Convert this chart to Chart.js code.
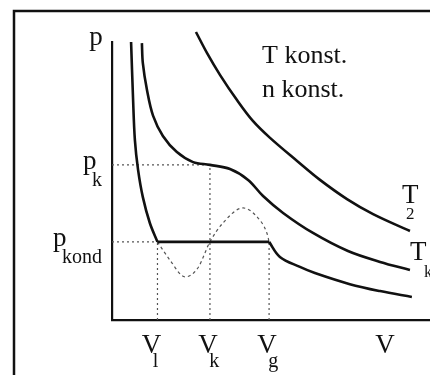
<!DOCTYPE html>
<html>
<head>
<meta charset="utf-8">
<script src="https://cdn.jsdelivr.net/npm/chart.js@4"></script>
<style>
  html, body { margin: 0; padding: 0; background: #fff; }
  #wrap { width: 430px; height: 375px; }
</style>
</head>
<body>
<div id="wrap"><canvas id="pv"></canvas></div>
<script>
// marked volumes and pressures on the axes
const vTicks = [14.3, 30.8, 49.4, 86.5];
const vSubs = ["l", "k", "g", ""];
const pLevels = [55.8, 28.1];
const pSubs = ["k", "kond"];

// isotherm T2 (above critical)
const t2V = [26.4, 29.9, 34.0, 39.3, 44.3, 49.7, 58.2, 65.4, 73.9, 82.1, 93.7];
const t2P = [103.6, 96.0, 88.1, 79.1, 71.6, 65.5, 57.2, 50.4, 43.5, 38.1, 32.0];

// critical isotherm Tk
const tkV = [9.4, 9.7, 11.0, 12.9, 16.0, 20.4, 25.5, 30.8, 37.1, 42.8, 47.5, 53.8, 63.2, 74.2, 84.3, 93.7];
const tkP = [99.6, 92.4, 82.7, 73.5, 66.2, 60.4, 56.8, 55.8, 54.3, 50.4, 44.6, 38.5, 31.3, 24.8, 20.9, 18.0];

// isotherm below Tk: liquid branch, condensation line, gas branch
const liqV = [6.0, 6.6, 7.2, 8.2, 9.7, 11.9, 14.3];
const liqP = [100, 80.2, 64.7, 54.0, 44.2, 34.9, 28.1];
const gasV = [49.4, 52.8, 59.1, 63.8, 74.8, 84.3, 94.3];
const gasP = [28.1, 22.7, 19.1, 16.9, 12.9, 10.4, 8.3];

// van der Waals loop
const loopV = [14.3, 18.2, 23.0, 27.0, 30.8, 34.9, 41.2, 45.6, 48.7, 49.4];
const loopP = [28.1, 21.6, 15.5, 18.7, 28.1, 34.9, 40.3, 37.1, 31.3, 28.1];

function pts(xs, ys) {
  return xs.map((v, i) => ({ x: v, y: ys[i] }));
}

const serif = '"Liberation Serif", "DejaVu Serif", serif';

const solid = (data) => ({
  data,
  borderColor: "#111",
  borderWidth: 2.6,
  pointRadius: 0,
  tension: 0.35,
  clip: false,
});

const dotted = (data) => ({
  data,
  borderColor: "#555",
  borderWidth: 1.2,
  borderDash: [2, 3],
  pointRadius: 0,
  clip: false,
});

const vL = vTicks[0], vK = vTicks[1], vG = vTicks[2];
const pK = pLevels[0], pKond = pLevels[1];

const datasets = [
  solid(pts(t2V, t2P)),
  solid(pts(tkV, tkP)),
  solid(pts(liqV, liqP)),
  { ...solid([{ x: vL, y: pKond }, { x: vG, y: pKond }]), tension: 0 },
  solid(pts(gasV, gasP)),
  { ...dotted(pts(loopV, loopP)), borderDash: [3, 3], cubicInterpolationMode: "monotone" },
  dotted([{ x: 0, y: pK }, { x: vK, y: pK }]),
  dotted([{ x: 0, y: pKond }, { x: vL, y: pKond }]),
  dotted([{ x: vL, y: 0 }, { x: vL, y: pKond }]),
  dotted([{ x: vK, y: 0 }, { x: vK, y: pK }]),
  dotted([{ x: vG, y: 0 }, { x: vG, y: pKond }]),
];

// frame round the figure
const framePlugin = {
  id: "frame",
  afterDraw(chart) {
    const ctx = chart.ctx;
    ctx.save();
    ctx.strokeStyle = "#111";
    ctx.lineWidth = 2.5;
    ctx.strokeRect(14, 11, 440, 400);
    ctx.restore();
  },
};

function text(ctx, s, x, y, size, align) {
  ctx.font = size + "px " + serif;
  ctx.textAlign = align || "left";
  ctx.fillText(s, x, y);
  return ctx.measureText(s).width;
}

const labelPlugin = {
  id: "labels",
  afterDraw(chart) {
    const { ctx, scales: { x, y } } = chart;
    ctx.save();
    ctx.fillStyle = "#111";
    ctx.textBaseline = "alphabetic";

    // volume labels under the axis
    vTicks.forEach((v, i) => {
      const cx = x.getPixelForValue(v) - (i === 0 ? 6 : 2);
      ctx.font = "27px " + serif;
      const w = ctx.measureText("V").width;
      text(ctx, "V", cx, y.bottom + 33, 27, "center");
      if (vSubs[i]) text(ctx, vSubs[i], cx - w / 2 + 11, y.bottom + 47, 20);
    });

    // pressure labels left of the axis
    pLevels.forEach((p, i) => {
      const py = y.getPixelForValue(p);
      ctx.font = "20px " + serif;
      const sw = ctx.measureText(pSubs[i]).width;
      const subLeft = x.left - 10 - sw;
      text(ctx, pSubs[i], subLeft, py + 21, 20);
      text(ctx, "p", subLeft - 9, py + 4, 27);
    });

    // axis name
    text(ctx, "p", x.left - 16, y.top + 3, 27, "center");

    // isotherm names at the curve ends
    const e2x = x.getPixelForValue(t2V[t2V.length - 1]);
    const e2y = y.getPixelForValue(t2P[t2P.length - 1]);
    text(ctx, "T", e2x - 8, e2y - 28, 27);
    text(ctx, "2", e2x - 4, e2y - 12, 17);
    const ekx = x.getPixelForValue(tkV[tkV.length - 1]);
    const eky = y.getPixelForValue(tkP[tkP.length - 1]);
    text(ctx, "T", ekx, eky - 10, 27);
    text(ctx, "k", ekx + 14, eky + 7, 17);

    text(ctx, "T konst.", 262, 63, 26);
    text(ctx, "n konst.", 262, 97, 26);
    ctx.restore();
  },
};

const axisOpts = {
  type: "linear",
  min: 0,
  max: 100,
  grid: { display: false, drawTicks: false },
  ticks: { display: false },
  border: { display: true, color: "#111", width: 2.2 },
};

new Chart(document.getElementById("pv"), {
  type: "line",
  data: { datasets },
  options: {
    responsive: true,
    maintainAspectRatio: false,
    animation: false,
    events: [],
    layout: { padding: { left: 112, top: 42, right: 0, bottom: 55 } },
    plugins: { legend: { display: false }, tooltip: { enabled: false } },
    scales: { x: axisOpts, y: axisOpts },
  },
  plugins: [framePlugin, labelPlugin],
});
</script>
</body>
</html>
